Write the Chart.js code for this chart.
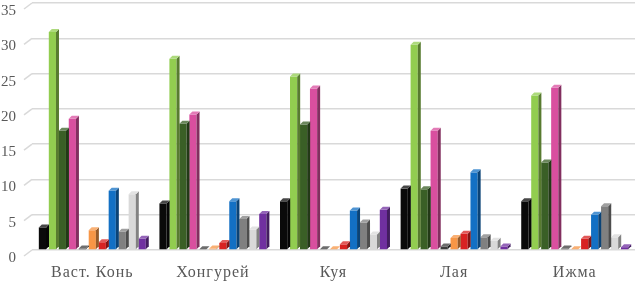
<!DOCTYPE html>
<html>
<head>
<meta charset="utf-8">
<script src="https://cdn.jsdelivr.net/npm/chart.js@4.4.0/dist/chart.umd.min.js"></script>
<style>
  html, body { margin: 0; padding: 0; background: #fff; }
  #wrap { width: 642px; height: 282px; }
</style>
</head>
<body>
<div id="wrap"><canvas id="myChart"></canvas></div>
<script>
// categories
var places = ["Васт. Конь", "Хонгурей", "Куя", "Лая", "Ижма"];

// series values, one array per series (order as in picture)
var s1 = [3.2, 6.6, 6.9, 8.7, 6.9];       // black
var s2 = [30.9, 27.1, 24.6, 29.1, 21.9];  // light green
var s3 = [16.9, 17.9, 17.8, 8.6, 12.4];   // dark green
var s4 = [18.6, 19.2, 22.9, 16.9, 23.0];  // pink
var s5 = [0.2, 0.1, 0.1, 0.5, 0.2];       // dark grey
var s6 = [2.8, 0.2, 0.1, 1.7, 0.1];       // orange
var s7 = [1.1, 1.0, 0.8, 2.3, 1.6];       // red
var s8 = [8.4, 6.9, 5.6, 11.0, 5.0];      // blue
var s9 = [2.6, 4.4, 3.9, 1.8, 6.2];       // grey
var s10 = [7.9, 2.9, 2.2, 1.3, 1.8];      // light grey
var s11 = [1.6, 5.1, 5.7, 0.5, 0.4];      // purple

var yTicks = [0, 5, 10, 15, 20, 25, 30, 35];

var seriesData = [s1, s2, s3, s4, s5, s6, s7, s8, s9, s10, s11];
var colors = ["#0a0a0a", "#92cd50", "#3a5f26", "#d94f9f", "#3c3c3c", "#f79646",
              "#d82222", "#1370c4", "#808080", "#d9d9d9", "#7030a0"];

function shade(hex, f) {
    var r = parseInt(hex.substr(1, 2), 16), g = parseInt(hex.substr(3, 2), 16), b = parseInt(hex.substr(5, 2), 16);
    function c(v) { return Math.max(0, Math.min(255, Math.round(f < 1 ? v * f : v + (255 - v) * (f - 1)))); }
    return "rgb(" + c(r) + "," + c(g) + "," + c(b) + ")";
}

var DEPTH = 3;

// slanted floor part of each grid line (left of the plot)
var slantGrid = {
    id: "slantGrid",
    beforeDraw: function(chart) { chart.ctx.letterSpacing = "0px"; },
    beforeDatasetsDraw: function(chart) {
        var ctx = chart.ctx, y = chart.scales.y, left = chart.chartArea.left;
        ctx.save();
        ctx.strokeStyle = "#d9d9d9";
        ctx.lineWidth = 1.5;
        yTicks.forEach(function(v) {
            var py = y.getPixelForValue(v);
            ctx.beginPath();
            ctx.moveTo(left - 8, py + 6);
            ctx.lineTo(left, py);
            ctx.stroke();
        });
        ctx.restore();
    }
};

// draws the side and top face of every bar to fake the 3D look
var bars3d = {
    id: "bars3d",
    afterDatasetsDraw: function(chart) {
        var ctx = chart.ctx;
        ctx.save();
        chart.data.datasets.forEach(function(ds, i) {
            var meta = chart.getDatasetMeta(i);
            meta.data.forEach(function(bar) {
                var p = bar.getProps(["x", "y", "base", "width"], true);
                var xl = p.x - p.width / 2, xr = p.x + p.width / 2;
                var d = DEPTH;
                ctx.fillStyle = shade(ds.backgroundColor, 0.6);
                ctx.beginPath();
                ctx.moveTo(xr, p.y);
                ctx.lineTo(xr + d, p.y - d);
                ctx.lineTo(xr + d, p.base - d);
                ctx.lineTo(xr, p.base);
                ctx.closePath();
                ctx.fill();
                ctx.fillStyle = shade(ds.backgroundColor, 1.25);
                ctx.beginPath();
                ctx.moveTo(xl, p.y);
                ctx.lineTo(xl + d, p.y - d);
                ctx.lineTo(xr + d, p.y - d);
                ctx.lineTo(xr, p.y);
                ctx.closePath();
                ctx.fill();
            });
        });
        ctx.restore();
        // category labels (x axis, drawn after this) are a bit wider in the reference
        ctx.letterSpacing = "1px";
    }
};

var datasets = seriesData.map(function(vals, i) {
    return {
        label: "s" + (i + 1),
        data: vals,
        backgroundColor: colors[i],
        borderWidth: 0,
        categoryPercentage: 0.91,
        barPercentage: 0.72
    };
});

var serif = "'Liberation Serif', 'Times New Roman', serif";

var ctx = document.getElementById("myChart").getContext("2d");
var chart = new Chart(ctx, {
    type: "bar",
    data: {
        labels: places,
        datasets: datasets
    },
    options: {
        responsive: true,
        maintainAspectRatio: false,
        animation: false,
        layout: { padding: { top: 3, right: 7, left: 0, bottom: 0 } },
        plugins: {
            legend: { display: false },
            tooltip: { enabled: false }
        },
        scales: {
            x: {
                grid: { display: false, drawTicks: false },
                border: { display: false },
                ticks: {
                    z: 1,
                    color: "#595959",
                    padding: 13,
                    font: { family: serif, size: 16 }
                },
                afterFit: function(axis) { axis.height = 32; axis.paddingLeft = 0; axis.paddingRight = 0; }
            },
            y: {
                min: 0,
                max: 35,
                afterBuildTicks: function(axis) {
                    axis.ticks = yTicks.map(function(v) { return { value: v }; });
                },
                afterFit: function(axis) { axis.width = 32; axis.paddingTop = 0; axis.paddingBottom = 0; },
                grid: { color: "#d9d9d9", lineWidth: 1.5, drawTicks: false },
                border: { display: false },
                ticks: {
                    color: "#595959",
                    padding: 16,
                    labelOffset: 8,
                    font: { family: serif, size: 15 }
                }
            }
        }
    },
    plugins: [slantGrid, bars3d]
});
</script>
</body>
</html>
